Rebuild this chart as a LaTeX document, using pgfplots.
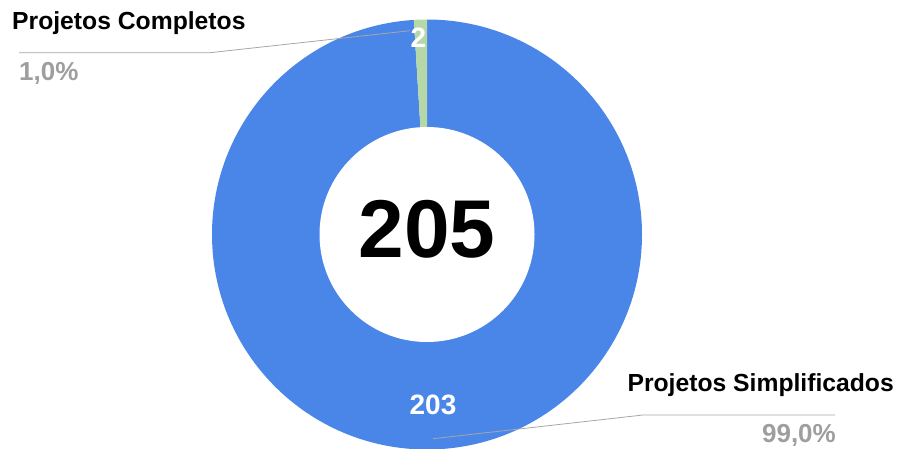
\documentclass[border=0pt]{standalone}
\usepackage{pgfplots}
\pgfplotsset{compat=1.18}
\usepackage{pgfplotstable}
\usepackage{fontspec}
\setmainfont{Liberation Sans}

\definecolor{slblue}{HTML}{4A86E8}
\definecolor{slgreen}{HTML}{B6D7A8}
\definecolor{pctgray}{HTML}{9E9E9E}
\definecolor{leader}{HTML}{A6A6A6}

% slice values
\pgfplotstableread{
label value
Simplificados 203
Completos 2
}\donutdata
\pgfplotstablegetelem{0}{value}\of\donutdata \pgfmathsetmacro\va{\pgfplotsretval}%
\pgfplotstablegetelem{1}{value}\of\donutdata \pgfmathsetmacro\vb{\pgfplotsretval}%
\pgfmathsetmacro\tot{\va+\vb}%
\pgfmathsetmacro\fracA{\va/\tot}%
\pgfmathsetmacro\endA{90-360*\fracA}%
\pgfmathtruncatemacro\totint{\tot}%

\begin{document}
\begin{tikzpicture}
\begin{axis}[
  x=1pt, y=1pt,
  xmin=0, xmax=899, ymin=0, ymax=448,
  hide axis, clip=false,
]
\coordinate (bl) at (axis cs:0,0);
\coordinate (tr) at (axis cs:899,448);
% donut
\fill[slblue] (axis cs:427,213.5) -- ++(90:215pt) arc[start angle=90, end angle=\endA, radius=215pt] -- cycle;
\fill[slgreen] (axis cs:427,213.5) -- ++(\endA:215pt) arc[start angle=\endA, end angle=-270, radius=215pt] -- cycle;
\fill[white] (axis cs:427,213.5) circle[radius=107.5pt];

% centre total
\node[inner sep=0, anchor=center, font=\fontsize{82}{90}\selectfont\bfseries] at (axis cs:427,218.5) {\totint};

% slice values
\node[inner sep=0, anchor=center, text=white, font=\fontsize{28}{32}\selectfont\bfseries] at (axis cs:418.5,410) {2};
\node[inner sep=0, anchor=center, text=white, font=\fontsize{28}{32}\selectfont\bfseries] at (axis cs:433,43) {203};

% leaders
\draw[leader, line width=0.8pt] (axis cs:19,395.3) -- (axis cs:210,395.3) -- (axis cs:410,417.3);
\draw[leader, line width=0.8pt] (axis cs:433,9.3) -- (axis cs:643,33) -- (axis cs:835,33);

% labels
\node[inner sep=0, anchor=base west, font=\fontsize{24.7}{28}\selectfont\bfseries] at (axis cs:12,418) {Projetos Completos};
\node[inner sep=0, anchor=base west, text=pctgray, font=\fontsize{26}{30}\selectfont\bfseries] at (axis cs:19,367.5) {1,0\%};
\node[inner sep=0, anchor=base east, font=\fontsize{24.7}{28}\selectfont\bfseries] at (axis cs:894,57) {Projetos Simplificados};
\node[inner sep=0, anchor=base east, text=pctgray, font=\fontsize{26}{30}\selectfont\bfseries] at (axis cs:836,6) {99,0\%};
\end{axis}
\pgfresetboundingbox
\useasboundingbox (bl) rectangle (tr);
\end{tikzpicture}
\end{document}
